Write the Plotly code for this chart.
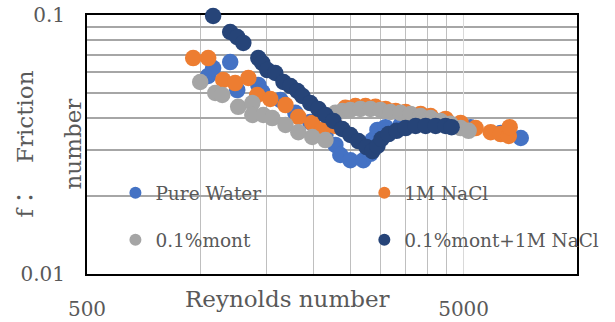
import plotly.graph_objects as go

# ---- data ----
pure_re = [1049, 1081, 1200, 1253, 1425, 1460, 1631, 1787, 1958, 2148, 2283, 2353, 2502, 2708,
           2828, 2863, 2952, 3102, 3399, 3843, 4340, 5219, 6272, 7090]
pure_f = [0.0582, 0.0624, 0.0658, 0.0513, 0.0537, 0.0504, 0.0470, 0.0419, 0.0386, 0.0344, 0.0315,
          0.0288, 0.0275, 0.0275, 0.0291, 0.0329, 0.0360, 0.0369, 0.0376, 0.0386, 0.0390, 0.0369,
          0.0350, 0.0335]

nacl_re = [957, 1049, 1150, 1237, 1341, 1416, 1533, 1683, 1820, 1982, 2109, 2283, 2426, 2580,
           2744, 2916, 3102, 3298, 3506, 3843, 4086, 4478, 4909, 5380, 5900, 6272, 6590, 6626]
nacl_f = [0.0682, 0.0682, 0.0561, 0.0546, 0.0571, 0.0491, 0.0474, 0.0449, 0.0404, 0.0383, 0.0360,
          0.0373, 0.0438, 0.0445, 0.0445, 0.0442, 0.0434, 0.0426, 0.0422, 0.0415, 0.0407, 0.0397,
          0.0383, 0.0366, 0.0353, 0.0347, 0.0341, 0.0369]

mont_re = [999, 1095, 1143, 1260, 1374, 1374, 1469, 1552, 1683, 1820, 1982, 2148, 2283, 2381,
           2502, 2659, 2828, 3006, 3198, 3399, 3613, 3843, 4086, 4340, 4616, 4909, 5154]
mont_f = [0.0551, 0.0500, 0.0491, 0.0442, 0.0457, 0.0411, 0.0411, 0.0400, 0.0376, 0.0353, 0.0338,
          0.0329, 0.0419, 0.0426, 0.0430, 0.0434, 0.0434, 0.0430, 0.0422, 0.0419, 0.0415, 0.0407,
          0.0400, 0.0390, 0.0380, 0.0366, 0.0357]

mix_re = [1081, 1200, 1253, 1300, 1425, 1460, 1506, 1581, 1662, 1734, 1810, 1865, 1958, 2057,
          2148, 2256, 2381, 2502, 2627, 2761, 2863, 2952, 3026, 3159, 3318, 3506, 3728, 3963,
          4213, 4478, 4645]
mix_f = [0.0991, 0.0860, 0.0822, 0.0780, 0.0682, 0.0653, 0.0613, 0.0597, 0.0551, 0.0532, 0.0509,
         0.0487, 0.0457, 0.0434, 0.0411, 0.0390, 0.0363, 0.0344, 0.0326, 0.0309, 0.0298, 0.0312,
         0.0332, 0.0347, 0.0357, 0.0366, 0.0373, 0.0373, 0.0373, 0.0373, 0.0369]

series_names = ["Pure Water", "1M NaCl", "0.1%mont", "0.1%mont+1M NaCl"]
series_colors = ["#4472C4", "#ED7D31", "#A5A5A5", "#264478"]
series_legend = ["legend", "legend2", "legend", "legend2"]

x_major = [500, 5000]
x_major_text = ["500", "5000"]
x_minor = [1000, 1500, 2000, 2500, 3000, 3500, 4000, 4500, 10000]
y_major = [0.01, 0.1]
y_major_text = ["0.01", "0.1"]
y_minor = [0.02, 0.03, 0.04, 0.05, 0.06, 0.07, 0.08, 0.09]

x_title = "Reynolds number"
y_title_lines = ["f：　Friction", "number"]

FONT = "DejaVu Serif, Noto Sans CJK JP, serif"
GREY_TXT = "#595959"

fig = go.Figure()
data = [(pure_re, pure_f), (nacl_re, nacl_f), (mont_re, mont_f), (mix_re, mix_f)]
for (xs, ys), name, col, lg in zip(data, series_names, series_colors, series_legend):
    fig.add_trace(go.Scatter(
        x=xs, y=ys, mode="markers", name=name,
        marker=dict(size=16.5, color=col, line=dict(width=0)),
        legend=lg, legendgroup=name, cliponaxis=False,
    ))

legend_common = dict(
    font=dict(family=FONT, size=18.5, color=GREY_TXT),
    bgcolor="rgba(0,0,0,0)", borderwidth=0,
    itemsizing="constant", tracegroupgap=20,
    xanchor="left", yanchor="top", orientation="v",
)

fig.update_layout(
    width=615, height=322,
    margin=dict(l=87, r=38, t=15, b=48, autoexpand=False),
    paper_bgcolor="white", plot_bgcolor="white",
    font=dict(family=FONT, color=GREY_TXT),
    showlegend=True,
    legend=dict(x=0.058, y=0.385, **legend_common),
    legend2=dict(x=0.566, y=0.385, **legend_common),
    xaxis=dict(
        type="log", range=[2.69897, 4.0],
        tickmode="array", tickvals=x_major, ticktext=x_major_text,
        tickfont=dict(family=FONT, size=20, color=GREY_TXT),
        ticks="", ticklabelstandoff=16,
        showgrid=True, gridcolor="#d9d9d9", gridwidth=1,
        minor=dict(tickmode="array", tickvals=x_minor, showgrid=True,
                   gridcolor="#bfbfbf", gridwidth=1, ticks=""),
        showline=True, linecolor="black", linewidth=2, mirror=True,
        zeroline=False, layer="below traces", automargin=False,
    ),
    yaxis=dict(
        type="log", range=[-2, -1],
        tickmode="array", tickvals=y_major, ticktext=y_major_text,
        tickfont=dict(family=FONT, size=20, color=GREY_TXT),
        ticks="", ticklabelstandoff=16,
        showgrid=True, gridcolor="#a6a6a6", gridwidth=1,
        minor=dict(tickmode="array", tickvals=y_minor, showgrid=True,
                   gridcolor="#a6a6a6", gridwidth=1.5, ticks=""),
        showline=True, linecolor="black", linewidth=2, mirror=True,
        zeroline=False, layer="below traces", automargin=False,
    ),
    annotations=[
        dict(text=x_title, xref="paper", yref="paper", x=(287 - 87) / 490, y=(274 - 299) / 259,
             xanchor="center", yanchor="middle", showarrow=False,
             font=dict(family=FONT, size=23, color=GREY_TXT)),
        dict(text=y_title_lines[0], xref="paper", yref="paper", x=(24 - 87) / 490, y=0.5,
             xanchor="center", yanchor="middle", textangle=-90, showarrow=False,
             font=dict(family=FONT, size=23, color=GREY_TXT)),
        dict(text=y_title_lines[1], xref="paper", yref="paper", x=(72 - 87) / 490, y=0.5,
             xanchor="center", yanchor="middle", textangle=-90, showarrow=False,
             font=dict(family=FONT, size=23, color=GREY_TXT)),
    ],
)

fig.write_html("out.html",
               config={"displayModeBar": False},
               post_script="document.body.style.margin='0';document.body.style.overflow='hidden';")
